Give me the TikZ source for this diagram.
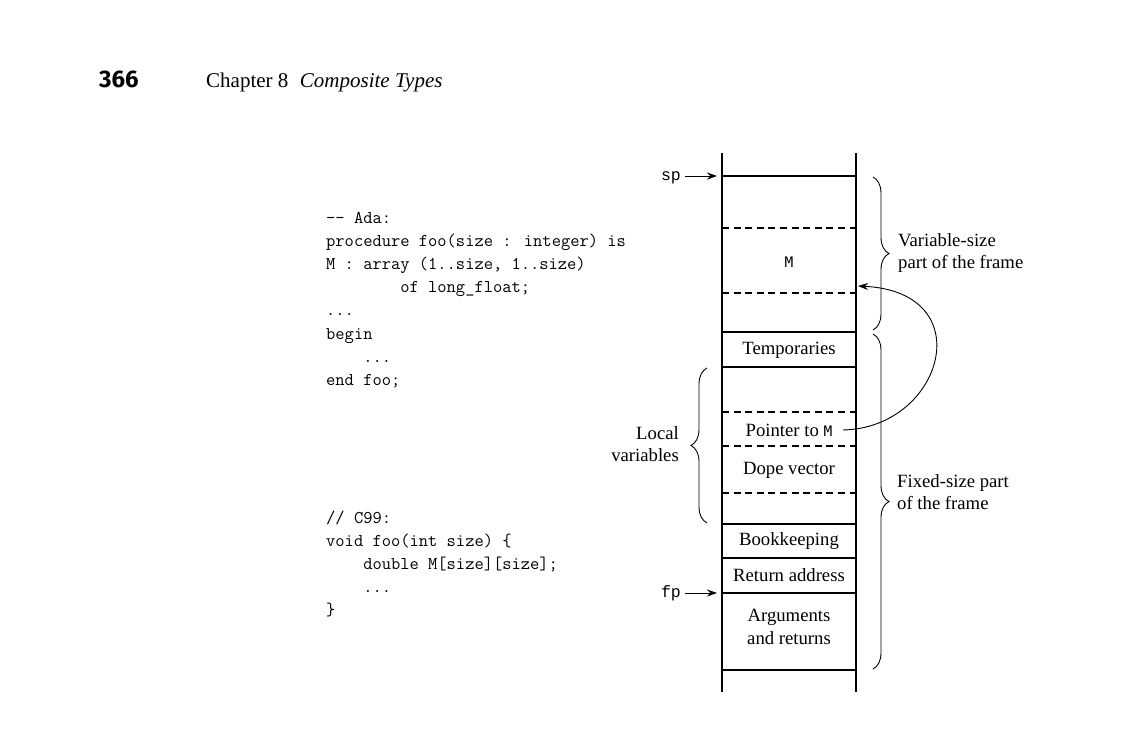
\documentclass[tikz,border=0pt]{standalone}
\usepackage{fontspec}
\setmainfont{Liberation Serif}
\newfontfamily\hdsans{Fira Sans}
\newfontfamily\cour{Liberation Mono}
\newfontfamily\lucmono{DejaVu Sans Mono}
\usetikzlibrary{decorations.pathreplacing,arrows.meta}
\tikzset{
  body/.style={font=\fontsize{18.7}{22.5}\selectfont, inner sep=0pt},
  code/.style={font=\ttfamily\fontsize{18}{23}\selectfont, anchor=base west, inner sep=0pt},
  ptrlab/.style={font=\cour\fontsize{16.5}{19}\selectfont, anchor=base east, inner sep=0pt},
  wall/.style={line width=1.3pt},
  slot/.style={line width=1.2pt},
  dslot/.style={line width=1.2pt, dash pattern=on 7pt off 4.6pt},
  ptrarrow/.style={line width=0.9pt, -{Stealth[length=10pt,width=7pt]}},
  brc/.style={line width=0.9pt, decorate, decoration={brace, amplitude=16pt, aspect=0.5}},
  curvarrow/.style={line width=0.9pt, -{Stealth[length=10pt,width=7pt]}}
}
\begin{document}
\begin{tikzpicture}[x=1pt,y=-1pt]
\useasboundingbox (0,0) rectangle (1128,730);

% header
\node[anchor=base west, inner sep=0pt, font=\hdsans\bfseries\fontsize{24}{28}\selectfont] (pg) at (99,88) {366};
\node[anchor=base west, inner sep=0pt, font=\fontsize{21}{24}\selectfont] (chap) at (206,88) {Chapter 8\hspace{0.55em}\textit{Composite Types}};

% Ada code
\node[code] (a1) at (326,224) {-{}- Ada:};
\node[code] (a2) at (326,247) {procedure foo(size : integer) is};
\node[code] (a3) at (326,270) {M : array (1..size, 1..size)};
\node[code] (a4) at (326,293) {\phantom{xxxxxxxx}of long\_float;};
\node[code] (a5) at (326,316) {...};
\node[code] (a6) at (326,339) {begin};
\node[code] (a7) at (326,362) {\phantom{xxxx}...};
\node[code] (a8) at (326,385) {end foo;};

% C99 code
\node[code] (c1) at (326,523) {// C99:};
\node[code] (c2) at (326,546) {void foo(int size) \{};
\node[code] (c3) at (326,569) {\phantom{xxxx}double M[size][size];};
\node[code] (c4) at (326,592) {\phantom{xxxx}...};
\node[code] (c5) at (326,615) {\}};

% stack walls
\coordinate (tl) at (722,153); \coordinate (bl) at (722,692);
\coordinate (tr) at (856,153); \coordinate (br) at (856,692);
\draw[wall] (tl) -- (bl);
\draw[wall] (tr) -- (br);

% slots
\foreach \y in {176,332,367,524,558,593,670} \draw[slot] (722,\y) -- (856,\y);
\foreach \y in {228,293,412,446,493} \draw[dslot] (722,\y) -- (856,\y);

% cell labels
\node[font=\lucmono\fontsize{14.5}{18}\selectfont, inner sep=0pt] (m) at (789,262) {M};
\node[body] (temp) at (789,350) {Temporaries};
\node[body] (ptr) at (789,430) {Pointer to {\lucmono\fontsize{14.5}{18}\selectfont M}};
\node[body] (dope) at (789,470) {Dope vector};
\node[body] (book) at (789,541) {Bookkeeping};
\node[body] (ret) at (789,575) {Return address};
\node[body, align=center] (args) at (789,627) {Arguments\\and returns};

% sp / fp
\node[ptrlab] (sp) at (681,180.5) {sp};
\coordinate (spto) at (717,176);
\draw[ptrarrow] ([xshift=4pt]sp.east |- spto) -- (spto);
\node[ptrlab] (fp) at (681,597.5) {fp};
\coordinate (fpto) at (717,593);
\draw[ptrarrow] ([xshift=4pt]fp.east |- fpto) -- (fpto);

% braces
\coordinate (b1t) at (873,177); \coordinate (b1b) at (873,330);
\draw[brc] (b1t) -- (b1b);
\coordinate (b2t) at (873,334); \coordinate (b2b) at (873,669);
\draw[brc] (b2t) -- (b2b);
\coordinate (b3t) at (707,368); \coordinate (b3b) at (707,523);
\draw[brc] (b3b) -- (b3t);

% brace labels
\node[body, anchor=west, align=left] (varlab) at (898,253) {Variable-size\\part of the frame};
\node[body, anchor=west, align=left] (fixlab) at (897,492) {Fixed-size part\\of the frame};
\node[body, anchor=east, align=right] (loclab) at (679,444) {Local\\variables};

% pointer arrow
\coordinate (ptrout) at (843,430);
\coordinate (mtip) at (858,286);
\draw[curvarrow] (ptrout) .. controls (943,428) and (982,292) .. (mtip);
\end{tikzpicture}
\end{document}
